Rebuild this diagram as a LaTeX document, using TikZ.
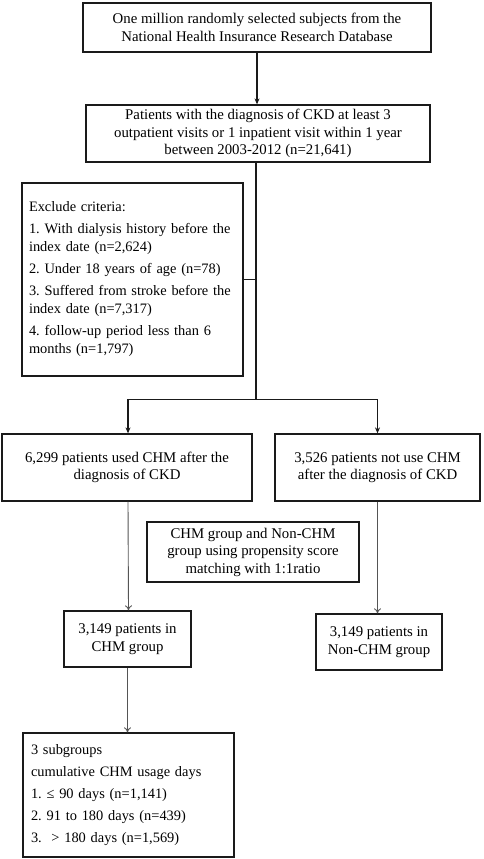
\documentclass[tikz,border=0pt]{standalone}
\usepackage{fontspec}
\setmainfont{Liberation Serif}
\usetikzlibrary{arrows.meta,calc}
\definecolor{lineblack}{HTML}{1A1A1A}
\definecolor{thingray}{HTML}{555555}
\frenchspacing
\begin{document}
\begin{tikzpicture}[x=1pt,y=1pt,
  box/.style={draw=lineblack,line width=1.3pt,rectangle,inner sep=0pt,align=center,
    font=\fontsize{14.8}{17.5}\selectfont},
  lbox/.style={box,align=left,font=\fontsize{14.4}{18}\selectfont},
  mainline/.style={draw=lineblack,line width=1.3pt},
  mainarrow/.style={mainline,-{Stealth[length=6pt,width=5pt]}},
  thinarrow/.style={draw=thingray,line width=0.9pt,-{To[length=5pt,width=7pt]}}]
\useasboundingbox (0,0) rectangle (484,-859);
\node[box,minimum width=348pt,minimum height=49pt] (b1) at (257,-27.5)
  {One million randomly selected subjects from the\\National Health Insurance Research Database};
\node[box,minimum width=344pt,minimum height=57pt] (b2) at (258,-133.5)
  {Patients with the diagnosis of CKD at least 3\\outpatient visits or 1 inpatient visit within 1 year\\between 2003-2012 (n=21,641)};
\node[lbox,minimum width=221pt,minimum height=193pt,text width=207pt] (excl) at (132.5,-279.5)
  {\baselineskip=18pt Exclude criteria:\\[4pt]
   1. With dialysis history before the\\index date (n=2,624)\\[4pt]
   2. Under 18 years of age (n=78)\\[4pt]
   3. Suffered from stroke before the\\index date (n=7,317)\\[4pt]
   4. follow-up period less than 6\\months (n=1,797)};
\node[box,minimum width=250pt,minimum height=67pt] (b3) at (127,-467.5)
  {6,299 patients used CHM after the\\diagnosis of CKD};
\node[box,minimum width=205pt,minimum height=67pt] (b4) at (377.5,-467.5)
  {3,526 patients not use CHM\\after the diagnosis of CKD};
\node[box,minimum width=212pt,minimum height=60pt] (prop) at (253,-552)
  {CHM group and Non-CHM\\group using propensity score\\matching with 1:1ratio};
\node[box,minimum width=127pt,minimum height=56pt] (b5) at (127.5,-639)
  {3,149 patients in\\CHM group};
\node[box,minimum width=126pt,minimum height=56pt] (b6) at (379,-642)
  {3,149 patients in\\Non-CHM group};
\node[lbox,minimum width=211pt,minimum height=124pt,text width=195pt] (b7) at (128.5,-795)
  {\baselineskip=18pt 3 subgroups\\[4pt]
   cumulative CHM usage days\\[4pt]
   1. ≤ 90 days (n=1,141)\\[4pt]
   2. 91 to 180 days (n=439)\\[4pt]
   3. \ > 180 days (n=1,569)};
\coordinate (j) at ($(b2.south)+(-2,-237)$);
\draw[mainarrow] (b1.south) -- (b1.south |- b2.north);
\draw[mainline] (b2.south -| j) -- (j);
\draw[mainline] (excl.east) -- (excl.east -| j);
\draw[mainarrow] (j) -| ([xshift=1pt]b3.north);
\draw[mainarrow] (j) -| (b4.north);
\draw[thinarrow] ([xshift=1pt]b3.south) -- ([xshift=1pt]b5.north);
\draw[thinarrow] (b4.south) -- (b4.south |- b6.north);
\draw[thinarrow] (b5.south) -- (b5.south |- b7.north);
\end{tikzpicture}
\end{document}
